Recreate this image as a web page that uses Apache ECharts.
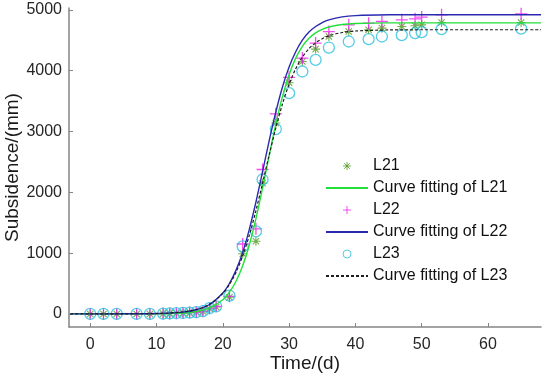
<!DOCTYPE html>
<html>
<head>
<meta charset="utf-8">
<script src="https://cdn.jsdelivr.net/npm/echarts@6/dist/echarts.min.js"></script>
<style>
html,body{margin:0;padding:0;background:#fff;}
#chart{width:550px;height:376px;}
</style>
</head>
<body>
<div id="chart"></div>
<script>
// Measured times (days)
const times = [0,2,4,7,9,11,12,13,14,15,16,17,18,19,21,23,25,26,28,30,32,34,36,39,42,44,47,49,50,53,65];
// Measured subsidence (mm)
const L21 = [0,0,0,0,0,5,8,10,14,20,28,42,85,115,275,990,1195,2150,3140,3800,4150,4354,4561,4643,4671,4699,4726,4737,4753,4791,4791];
const L22 = [0,0,0,0,0,5,8,12,16,22,30,45,95,125,290,1150,1400,2375,3290,3890,4206,4453,4643,4753,4781,4808,4835,4852,4880,4918,4934];
const L23 = [0,0,0,0,0,5,8,12,16,22,30,45,95,125,300,1110,1357,2210,3040,3630,3986,4178,4380,4479,4518,4561,4584,4617,4633,4683,4691];

// Fitted curves
const fitT   = [-3,0,5,10,14,16,18,20,21,22,23,24,25,26,27,28,29,30,31,32,33,34,35,36,38,40,45,50,60,68];
const fitL21 = [0,0,1,4,16,40,98,233,357,537,791,1134,1568,2072,2608,3122,3572,3933,4206,4399,4532,4621,4680,4717,4758,4774,4785,4786,4786,4786];
const fitL22 = [0,0,2,6,30,68,155,345,500,720,1010,1390,1840,2340,2850,3320,3730,4060,4310,4500,4635,4725,4790,4835,4885,4905,4918,4920,4920,4920];
const fitL23 = [0,0,2,6,33,72,157,335,483,686,954,1293,1699,2151,2614,3059,3452,3777,4031,4223,4362,4458,4525,4574,4627,4652,4669,4672,4672,4672];

const xTicks = [0,10,20,30,40,50,60];
const yTicks = [0,1000,2000,3000,4000,5000];

const names = ['L21','Curve fitting of L21','L22','Curve fitting of L22','L23','Curve fitting of L23'];

function pairs(xs, ys){ return xs.map((x,i)=>[x, ys[i]]); }

const FONT = '"Liberation Sans", Arial, Helvetica, sans-serif';
const AX = '#858585';
const C_STAR = '#4f9a22', C_GFIT = '#22e038', C_PLUS = '#ee22ee', C_BFIT = '#2a2ab0', C_CIRC = '#2cc0dc', C_DASH = '#1e1e1e';

const asterisk = 'path://M5,0L5,10M0,5L10,5M1.5,1.5L8.5,8.5M1.5,8.5L8.5,1.5';
const plus = 'path://M5,0L5,10M0,5L10,5';
const hidden = {color:'rgba(0,0,0,0)', borderColor:'rgba(0,0,0,0)', borderWidth:0, opacity:0};

const chart = echarts.init(document.getElementById('chart'), null, {renderer:'canvas'});
chart.setOption({
  animation:false,
  textStyle:{fontFamily:FONT},
  grid:{left:69, top:8, width:472, height:319, containLabel:false, outerBoundsMode:'none'},
  xAxis:{
    type:'value', min:-3.2, max:68,
    name:'Time/(d)', nameLocation:'middle', nameGap:27, nameMoveOverlap:false,
    nameTextStyle:{fontSize:19, color:'#1a1a1a', fontFamily:FONT},
    axisLine:{show:true, onZero:false, lineStyle:{color:AX, width:1.5}},
    axisTick:{show:true, inside:true, length:4, lineStyle:{color:AX}, customValues:xTicks},
    axisLabel:{fontSize:16, color:'#262626', margin:10, customValues:xTicks, fontFamily:FONT,
               formatter:(v)=>String(v)},
    splitLine:{show:false}
  },
  yAxis:{
    type:'value', min:-215, max:5030,
    name:'Subsidence/(mm)', nameLocation:'middle', nameGap:47, nameRotate:90, nameMoveOverlap:false,
    nameTextStyle:{fontSize:19, color:'#1a1a1a', fontFamily:FONT},
    axisLine:{show:true, onZero:false, lineStyle:{color:AX, width:1.5}},
    axisTick:{show:true, inside:true, length:4, lineStyle:{color:AX}, customValues:yTicks},
    axisLabel:{fontSize:16, color:'#262626', margin:7, customValues:yTicks, fontFamily:FONT,
               formatter:(v)=>String(v)},
    splitLine:{show:false}
  },
  legend:{
    orient:'vertical', left:320, top:150,
    itemWidth:42, itemHeight:8, itemGap:0,
    textStyle:{fontSize:16, color:'#111', lineHeight:22, fontFamily:FONT},
    data:[
      {name:names[0], icon:asterisk, itemStyle:{color:C_STAR, borderColor:C_STAR, borderWidth:1}},
      {name:names[1], itemStyle:hidden},
      {name:names[2], icon:plus, itemStyle:{color:C_PLUS, borderColor:C_PLUS, borderWidth:1}},
      {name:names[3], itemStyle:hidden},
      {name:names[4], icon:'circle', itemStyle:{color:'rgba(0,0,0,0)', borderColor:C_CIRC, borderWidth:1}},
      {name:names[5], itemStyle:hidden}
    ]
  },
  series:[
    {name:names[0], type:'scatter', data:pairs(times,L21), symbol:asterisk, symbolSize:9,
     itemStyle:{color:C_STAR, borderColor:C_STAR, borderWidth:1.1}},
    {name:names[1], type:'line', data:pairs(fitT,fitL21), smooth:0.3, symbol:'none', showSymbol:false,
     lineStyle:{color:C_GFIT, width:1.4}, itemStyle:{color:C_GFIT}},
    {name:names[2], type:'scatter', data:pairs(times,L22), symbol:plus, symbolSize:12,
     itemStyle:{color:C_PLUS, borderColor:C_PLUS, borderWidth:1.3}},
    {name:names[3], type:'line', data:pairs(fitT,fitL22), smooth:0.3, symbol:'none', showSymbol:false,
     lineStyle:{color:C_BFIT, width:1.4}, itemStyle:{color:C_BFIT}},
    {name:names[4], type:'scatter', data:pairs(times,L23), symbol:'circle', symbolSize:11,
     itemStyle:{color:'rgba(0,0,0,0)', borderColor:C_CIRC, borderWidth:1.3}},
    {name:names[5], type:'line', data:pairs(fitT,fitL23), smooth:0.3, symbol:'none', showSymbol:false,
     lineStyle:{color:C_DASH, width:1.2, type:[3,2]}, itemStyle:{color:C_DASH}}
  ]
});
</script>
</body>
</html>
